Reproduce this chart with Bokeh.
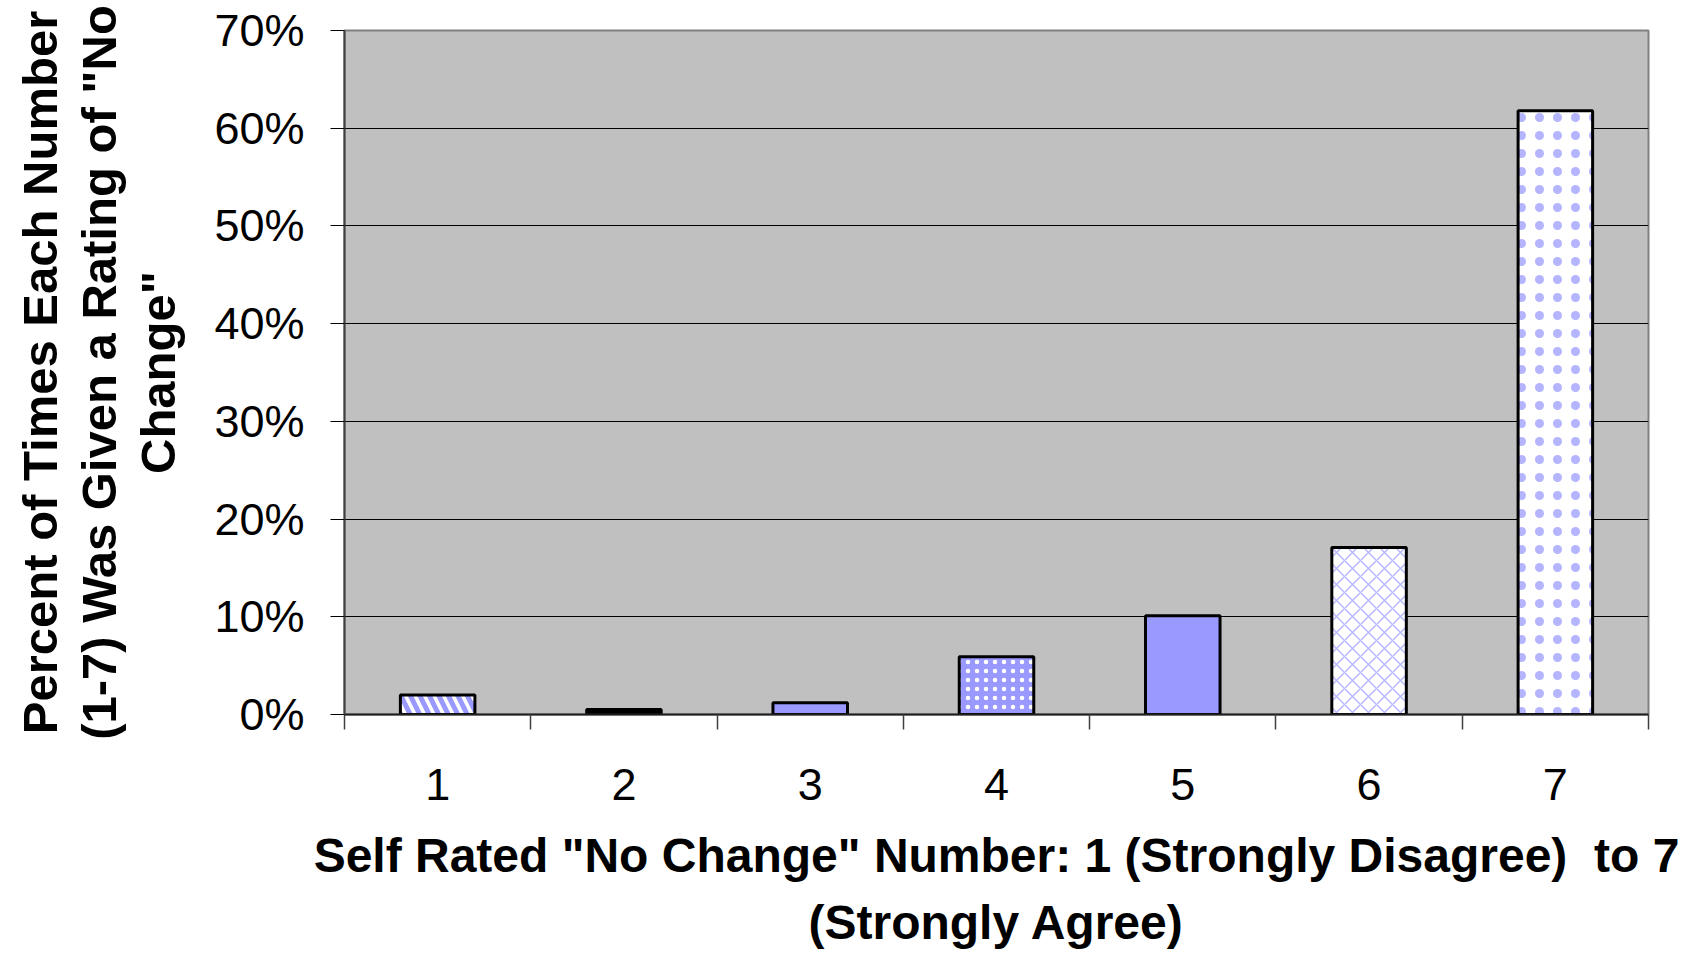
from bokeh.plotting import figure
from bokeh.models import Range1d, FixedTicker, NumeralTickFormatter, ColumnDataSource
from bokeh.embed import file_html
from bokeh.resources import INLINE

# ---- data ----
ratings = [1, 2, 3, 4, 5, 6, 7]
rating_labels = ["1", "2", "3", "4", "5", "6", "7"]
percent = [0.020, 0.005, 0.012, 0.059, 0.101, 0.171, 0.618]
y_ticks = [0.0, 0.1, 0.2, 0.3, 0.4, 0.5, 0.6, 0.7]

x_title = 'Self Rated "No Change" Number: 1 (Strongly Disagree)\u00a0 to 7\n(Strongly Agree)'
y_title = 'Percent of Times Each Number\n(1-7) Was Given a Rating of "No\nChange"'

# ---- styles (one per bar) ----
fills = ["white", "black", "#9999FF", "#9999FF", "#9999FF", "white", "white"]
hatches = ["left_diagonal_line", " ", " ", "dot", " ", "diagonal_cross", "dot"]
hatch_colors = ["#9999FF", "#9999FF", "#9999FF", "white", "#9999FF", "#B8B8FF", "#B4B4FF"]
hatch_scales = [19, 10, 10, 9, 10, 16, 18]
hatch_weights = [5, 1, 1, 2.5, 1, 1.5, 1]

FONT = "Liberation Sans"

p = figure(width=1694, height=953, output_backend="svg", toolbar_location=None,
           x_range=Range1d(0.5, 7.5), y_range=Range1d(0, 0.7),
           min_border_left=344, min_border_right=46, min_border_top=30, min_border_bottom=239)
p.background_fill_color = "#C0C0C0"
p.border_fill_color = "white"
p.outline_line_color = "#808080"
p.outline_line_width = 2

for i in range(len(ratings)):
    src = ColumnDataSource(dict(x=[ratings[i]], top=[percent[i]]))
    p.vbar(x="x", top="top", bottom=0, width=0.4, source=src,
           fill_color=fills[i], line_color="black", line_width=3,
           hatch_pattern=hatches[i], hatch_color=hatch_colors[i],
           hatch_scale=hatch_scales[i], hatch_weight=hatch_weights[i])

# grid
p.xgrid.visible = False
p.ygrid.grid_line_color = "black"
p.ygrid.grid_line_width = 1
p.ygrid.ticker = FixedTicker(ticks=y_ticks)

# y axis
p.yaxis.ticker = FixedTicker(ticks=y_ticks)
p.yaxis.formatter = NumeralTickFormatter(format="0%")
p.yaxis.major_tick_out = 14
p.yaxis.major_tick_in = 0
p.yaxis.minor_tick_out = 0
p.yaxis.minor_tick_in = 0
p.yaxis.major_tick_line_color = "black"
p.yaxis.axis_line_color = "#404040"
p.yaxis.axis_line_width = 2
p.yaxis.major_label_text_font = FONT
p.yaxis.major_label_text_font_size = "45px"
p.yaxis.major_label_text_color = "black"
p.yaxis.major_label_standoff = 26
p.yaxis.axis_label = y_title
p.yaxis.axis_label_text_font = FONT
p.yaxis.axis_label_text_font_style = "bold"
p.yaxis.axis_label_text_font_size = "49px"
p.yaxis.axis_label_text_color = "black"
p.yaxis.axis_label_text_line_height = 1.1
p.yaxis.axis_label_standoff = 26

# x axis
p.xaxis.ticker = FixedTicker(ticks=ratings, minor_ticks=[0.5, 1.5, 2.5, 3.5, 4.5, 5.5, 6.5, 7.5])
p.xaxis.major_label_overrides = {r: l for r, l in zip(ratings, rating_labels)}
p.xaxis.major_tick_out = 0
p.xaxis.major_tick_in = 0
p.xaxis.minor_tick_out = 15
p.xaxis.minor_tick_in = 0
p.xaxis.minor_tick_line_color = "#404040"
p.xaxis.minor_tick_line_width = 1.5
p.xaxis.axis_line_color = "#202020"
p.xaxis.axis_line_width = 2
p.xaxis.major_label_text_font = FONT
p.xaxis.major_label_text_font_size = "45px"
p.xaxis.major_label_text_color = "black"
p.xaxis.major_label_standoff = 39
p.xaxis.axis_label = x_title
p.xaxis.axis_label_text_font = FONT
p.xaxis.axis_label_text_font_style = "bold"
p.xaxis.axis_label_text_font_size = "48px"
p.xaxis.axis_label_text_color = "black"
p.xaxis.axis_label_text_line_height = 1.28
p.xaxis.axis_label_standoff = 26

open("out.html", "w").write(file_html(p, INLINE))
